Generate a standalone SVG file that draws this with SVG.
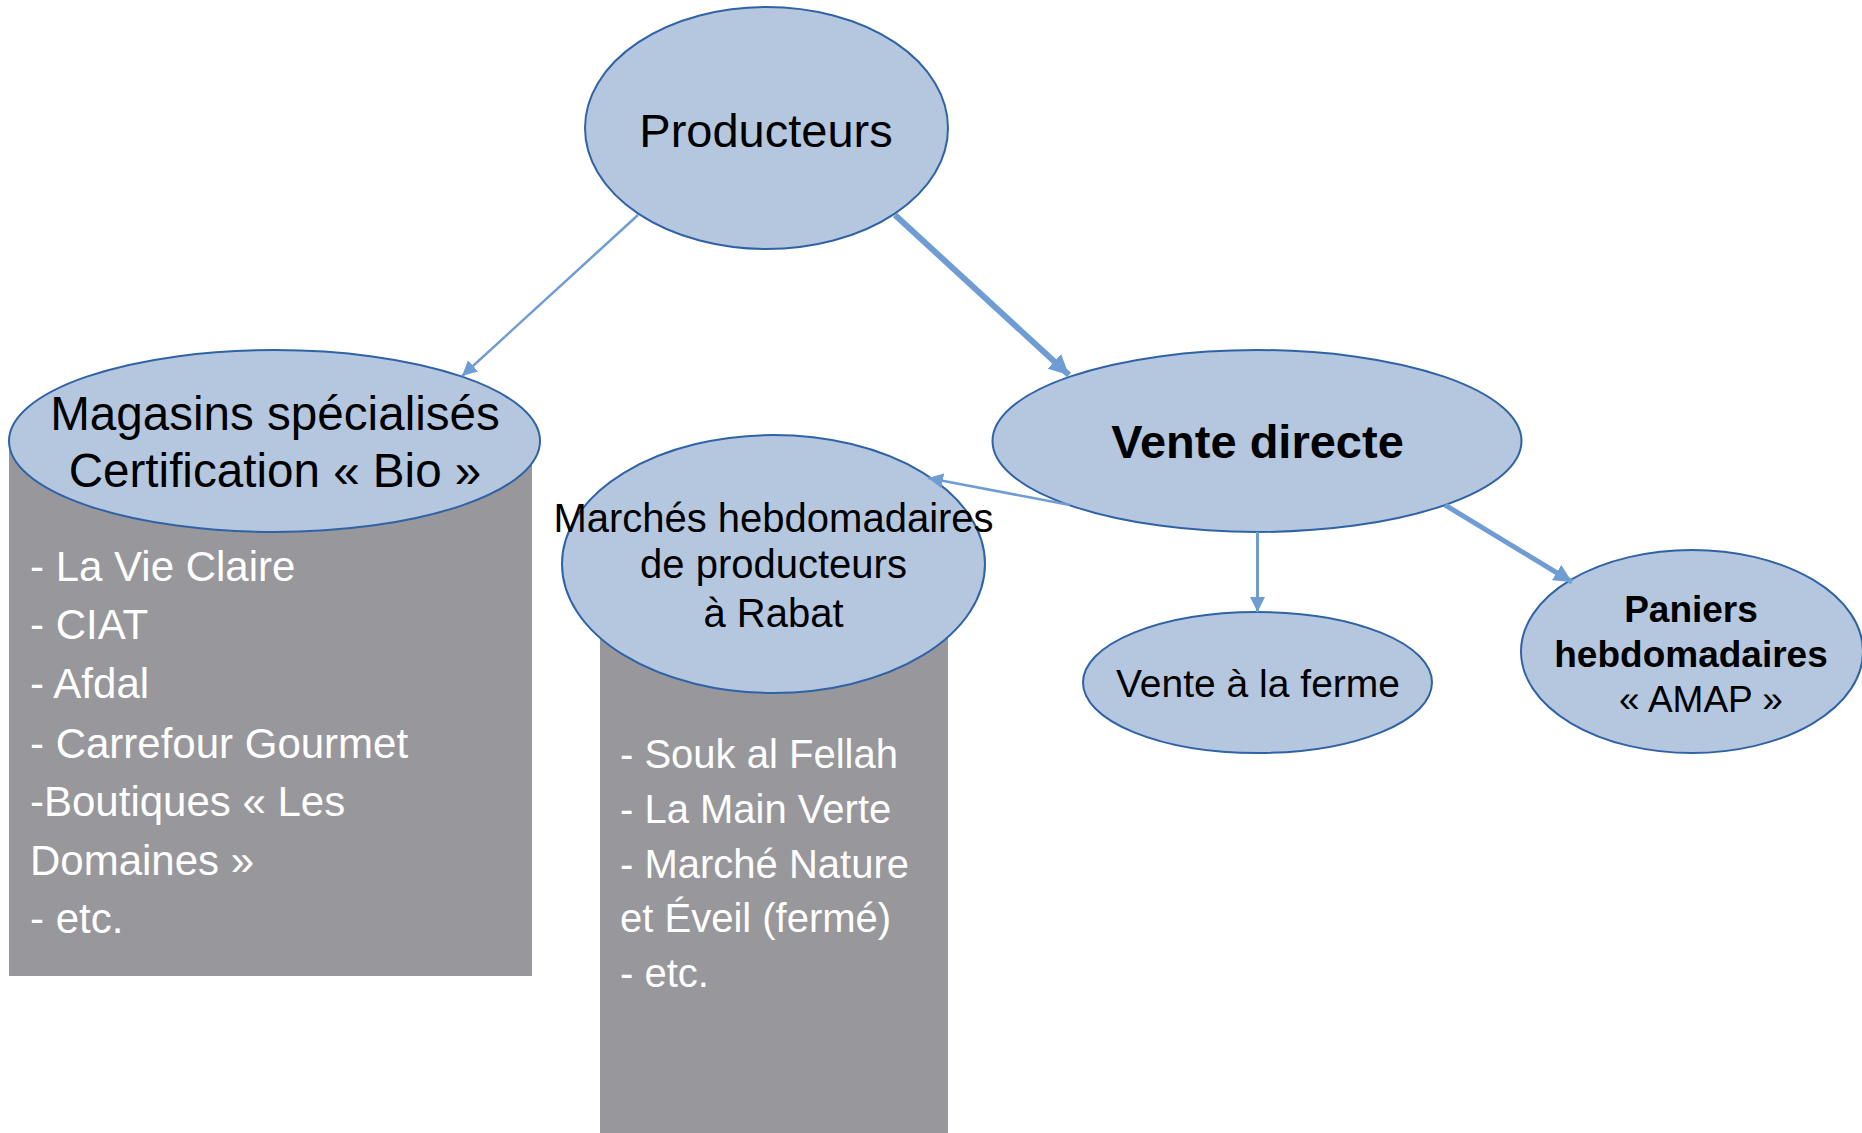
<svg xmlns="http://www.w3.org/2000/svg" width="1862" height="1133" viewBox="0 0 1862 1133">
<style>
.node{fill:#B4C7DE;stroke:#3062A6;stroke-width:2}
.box{fill:#98979C}
.t{font-family:"Liberation Sans",Arial,sans-serif;fill:#000;text-anchor:middle}
.b{font-weight:bold}
.w{font-family:"Liberation Sans",Arial,sans-serif;fill:#fff}
.c{stroke:#6F9DD3;fill:none}
</style>
<defs>
<marker id="ah" markerUnits="userSpaceOnUse" viewBox="0 0 10 10" refX="10" refY="5" markerWidth="15" markerHeight="16" orient="auto">
<path d="M0,0 L10,5 L0,10 z" fill="#6F9DD3"/>
</marker>
<marker id="ahm" markerUnits="userSpaceOnUse" viewBox="0 0 10 10" refX="10" refY="5" markerWidth="18" markerHeight="19" orient="auto">
<path d="M0,0 L10,5 L0,10 z" fill="#6F9DD3"/>
</marker>
<marker id="ahb" markerUnits="userSpaceOnUse" viewBox="0 0 10 10" refX="10" refY="5" markerWidth="20" markerHeight="23" orient="auto">
<path d="M0,0 L10,5 L0,10 z" fill="#6F9DD3"/>
</marker>
</defs>
<rect width="1862" height="1133" fill="#fff"/>
<g id="magasins">
<rect class="box" x="9" y="441" width="523" height="535"/>
<ellipse class="node" cx="274.5" cy="441" rx="265.5" ry="91"/>
<text class="t" font-size="47.6" x="275" y="430">Magasins spécialisés</text>
<text class="t" font-size="47.6" x="275" y="487">Certification « Bio »</text>
<g class="w" font-size="42">
<text x="30" y="581">- La Vie Claire</text>
<text x="30" y="639">- CIAT</text>
<text x="30" y="698">- Afdal</text>
<text x="30" y="758">- Carrefour Gourmet</text>
<text x="30" y="816">-Boutiques « Les</text>
<text x="30" y="875">Domaines »</text>
<text x="30" y="933">- etc.</text>
</g>
</g>
<g id="marches">
<rect class="box" x="600" y="600" width="348" height="533"/>
<ellipse class="node" cx="773.5" cy="564" rx="211.5" ry="129"/>
<text class="t" font-size="40" x="773.5" y="532">Marchés hebdomadaires</text>
<text class="t" font-size="40" x="773.5" y="578">de producteurs</text>
<text class="t" font-size="40" x="773.5" y="627">à Rabat</text>
<g class="w" font-size="40">
<text x="620" y="768">- Souk al Fellah</text>
<text x="620" y="823">- La Main Verte</text>
<text x="620" y="878">- Marché Nature</text>
<text x="620" y="932">et Éveil (fermé)</text>
<text x="620" y="987">- etc.</text>
</g>
</g>
<g id="producteurs">
<ellipse class="node" cx="766.5" cy="128" rx="181.5" ry="121"/>
<text class="t" font-size="47" x="766" y="147">Producteurs</text>
</g>
<g id="vente-directe">
<ellipse class="node" cx="1257" cy="441" rx="264.5" ry="91"/>
<text class="t b" font-size="47" x="1257.5" y="458">Vente directe</text>
</g>
<g id="vente-ferme">
<ellipse class="node" cx="1257.5" cy="682.5" rx="174.5" ry="70.5"/>
<text class="t" font-size="39" x="1258" y="697">Vente à la ferme</text>
</g>
<g id="paniers">
<ellipse class="node" cx="1692" cy="651.5" rx="171" ry="101.5"/>
<text class="t b" font-size="37" x="1691" y="622">Paniers</text>
<text class="t b" font-size="37" x="1691" y="667">hebdomadaires</text>
<text class="t" font-size="37" x="1701" y="712">« AMAP »</text>
</g>
<g id="connectors">
<line class="c" x1="638" y1="215" x2="462" y2="376" stroke-width="2.5" marker-end="url(#ah)"/>
<line class="c" x1="895" y1="215" x2="1069" y2="375" stroke-width="6" marker-end="url(#ahb)"/>
<line class="c" x1="1070" y1="505" x2="928" y2="478" stroke-width="2.5" marker-end="url(#ah)"/>
<line class="c" x1="1257.5" y1="532" x2="1257.5" y2="612" stroke-width="3" marker-end="url(#ah)"/>
<line class="c" x1="1445" y1="505" x2="1572" y2="582" stroke-width="5" marker-end="url(#ahm)"/>
</g>
</svg>
